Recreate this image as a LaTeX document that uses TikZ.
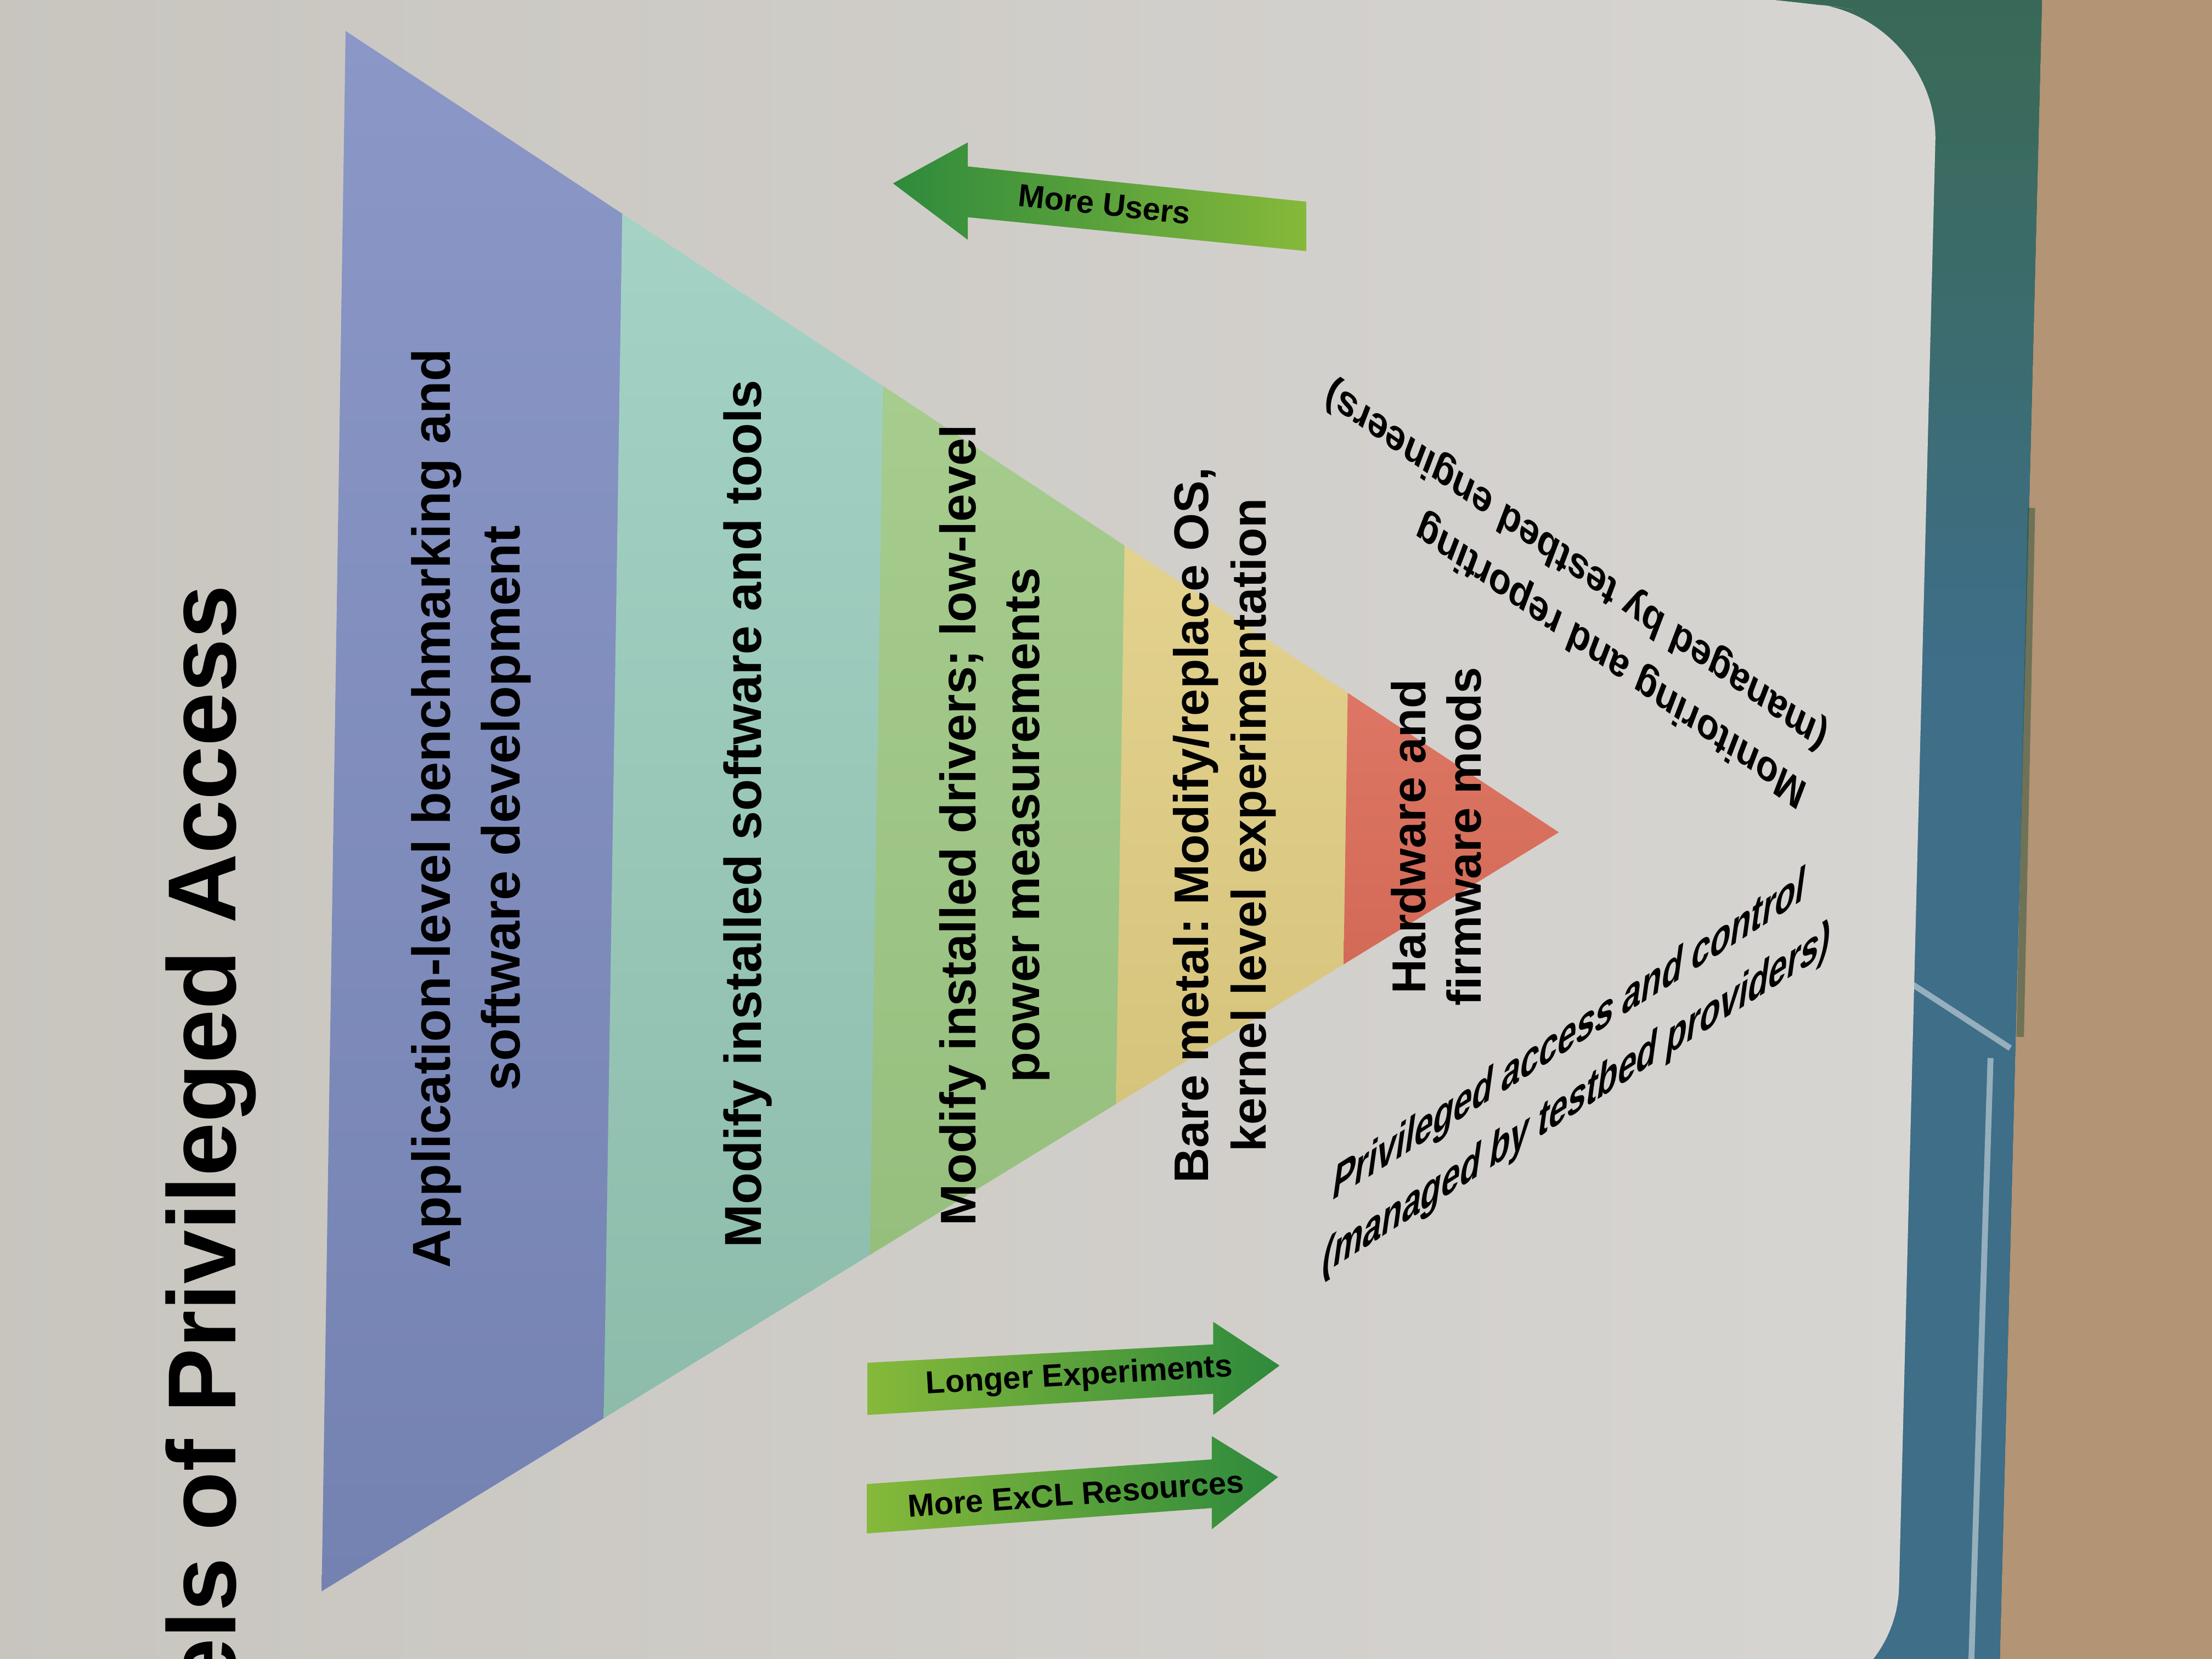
\documentclass[tikz,border=0pt]{standalone}
\usepackage{fontspec}
\setmainfont{Liberation Sans}
\usetikzlibrary{calc}

\definecolor{posterL}{HTML}{C8C5BF}
\definecolor{posterR}{HTML}{D7D5D2}
\definecolor{wall}{HTML}{B39474}
\definecolor{framedark}{HTML}{2C5239}
\definecolor{framegreen}{HTML}{3A6A5A}
\definecolor{frameblue}{HTML}{3E6E88}
\definecolor{blueT}{HTML}{8A97C7}
\definecolor{blueB}{HTML}{7482B2}
\definecolor{tealT}{HTML}{A4D3C6}
\definecolor{tealB}{HTML}{8DBCAB}
\definecolor{greenT}{HTML}{A6CC8E}
\definecolor{greenB}{HTML}{96BF7E}
\definecolor{yellowT}{HTML}{E3D28E}
\definecolor{yellowB}{HTML}{D6C47C}
\definecolor{redT}{HTML}{DD7664}
\definecolor{redB}{HTML}{D36A57}
\definecolor{arrowlight}{HTML}{86B93A}
\definecolor{arrowdark}{HTML}{2E8A3C}

\pgfdeclareverticalshading{framefade}{100bp}{color(0bp)=(frameblue); color(55bp)=(frameblue); color(72bp)=(framegreen); color(100bp)=(framedark)}

\begin{document}
\frenchspacing
\begin{tikzpicture}[band/.style={rotate=90,align=center,inner sep=0pt},note/.style={align=left,inner sep=0pt,font=\bfseries\fontsize{8}{11.6}\selectfont},tag/.style={inner sep=0pt,font=\bfseries\fontsize{6.4}{7.6}\selectfont},title/.style={rotate=90,inner sep=0pt,font=\bfseries\fontsize{19.5}{23}\selectfont},rightarrow/.style={left color=arrowlight,right color=arrowdark},leftarrow/.style={left color=arrowdark,right color=arrowlight}]
\useasboundingbox (0,0) rectangle (15.68,-11.76);
\clip (0,0) rectangle (15.68,-11.76);
% wall, frame and poster board
\fill[framedark] (0,0) rectangle (15.68,-11.76);
\fill[wall] (14.48,0.2) -- (15.9,0.2) -- (15.9,-12) -- (14.17,-12) -- cycle;
\shade[shading=framefade] (12.0,0.2) -- (14.48,0.2) -- (14.17,-12) -- (12.0,-12) -- cycle;
\draw[white,opacity=0.45,line width=1.2pt] (13.56,-6.98) -- (14.25,-7.43);
\draw[white,opacity=0.45,line width=1.2pt] (14.11,-7.50) -- (13.97,-11.9);
\draw[framedark,opacity=0.5,line width=1.5pt] (14.40,-3.6) -- (14.32,-7.35);
\shade[left color=posterL,right color=posterR,rounded corners=8.5mm] (-0.2,0.6) -- (12.3,0.05) -- (13.74,-0.15) -- (13.44,-12.1) -- (-0.2,-12.1) -- cycle;
% triangle of access levels
\coordinate (tl) at (2.45,-0.22); \coordinate (bl) at (2.28,-11.28); \coordinate (ap) at (11.05,-5.90);
\foreach \a/\b/\ct/\cb in {0/0.230/blueT/blueB,0.228/0.445/tealT/tealB,0.443/0.644/greenT/greenB,0.642/0.828/yellowT/yellowB}
  \shade[top color=\ct,bottom color=\cb] ($(tl)!\a!(ap)$) -- ($(tl)!\b!(ap)$) -- ($(bl)!\b!(ap)$) -- ($(bl)!\a!(ap)$) -- cycle;
\shade[top color=redT,bottom color=redB] ($(tl)!0.826!(ap)$) -- (ap) -- ($(bl)!0.826!(ap)$) -- cycle;
\node[title,anchor=base east] (heading) at (1.67,-4.14) {els of Privileged Access};
\node[band,font=\bfseries\fontsize{10.8}{14}\selectfont] (appl) at (3.34,-5.73) {Application-level benchmarking and\\software development};
\node[band,font=\bfseries\fontsize{10.5}{13}\selectfont] (sw) at (5.30,-5.77) {Modify installed software and tools};
\node[band,font=\bfseries\fontsize{10.1}{12.8}\selectfont] (drv) at (7.05,-5.85) {Modify installed drivers; low-level\\power measurements};
\node[band,font=\bfseries\fontsize{9.8}{11.6}\selectfont] (bare) at (8.68,-5.85) {Bare metal: Modify/replace OS,\\kernel level experimentation};
\node[band,font=\bfseries\fontsize{9.6}{11.2}\selectfont] (hw) at (10.18,-5.93) {Hardware and\\firmware mods};
% labels along the two edges
\node[note,rotate=145,xslant=-0.25] (monitor) at (11.10,-4.20) {Monitoring and reporting\\(managed by testbed engineers)};
\node[note,rotate=32.5,xslant=0.85] (privacc) at (11.21,-7.54) {Privileged access and control\\(managed by testbed providers)};
% green arrows
\shade[leftarrow] (6.33,-1.30) -- (6.86,-1.01) -- (6.86,-1.18) -- (9.26,-1.43) -- (9.26,-1.78) -- (6.86,-1.54) -- (6.86,-1.70) -- cycle;
\node[tag,rotate=-6] (users) at (7.83,-1.45) {More Users};
\shade[rightarrow] (6.15,-9.66) -- (8.60,-9.53) -- (8.60,-9.37) -- (9.07,-9.68) -- (8.60,-10.03) -- (8.60,-9.88) -- (6.15,-10.03) -- cycle;
\node[tag,rotate=3.3] (longer) at (7.65,-9.76) {Longer Experiments};
\shade[rightarrow] (6.145,-10.52) -- (8.59,-10.345) -- (8.59,-10.18) -- (9.06,-10.47) -- (8.59,-10.84) -- (8.59,-10.69) -- (6.145,-10.87) -- cycle;
\node[tag,rotate=4.2] (excl) at (7.625,-10.59) {More ExCL Resources};
\end{tikzpicture}
\end{document}
